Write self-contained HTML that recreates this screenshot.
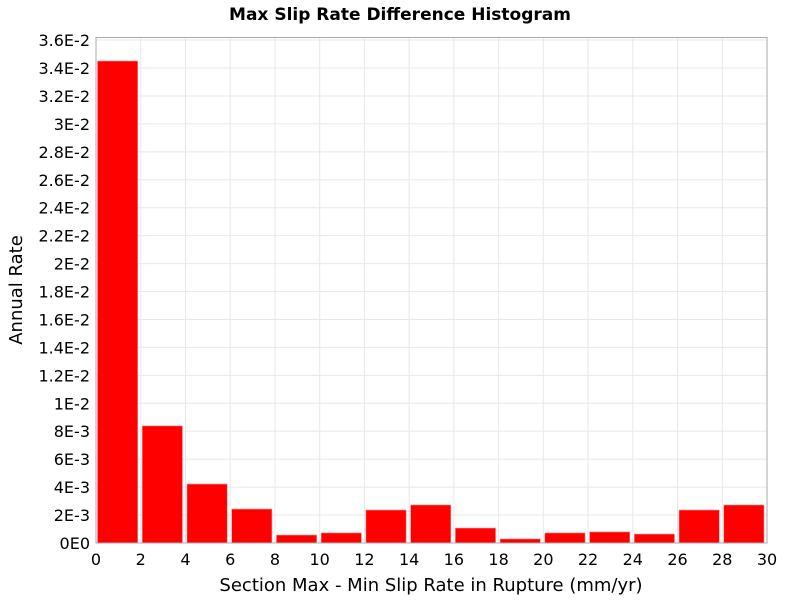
<!DOCTYPE html>
<html><head><meta charset="utf-8"><style>
body{margin:0;background:#fff}
svg text{font-family:"DejaVu Sans","Liberation Sans",sans-serif;fill:#000}
</style></head><body>
<svg id="c" width="800" height="600">
<text x="400" y="20" text-anchor="middle" font-size="17" font-weight="bold">Max Slip Rate Difference Histogram</text>
<g id="grid"></g>
<g id="bars"></g>
<rect x="96" y="37.5" width="671" height="505.5" fill="none" stroke="#aaa"/>
<g id="yt"></g>
<g id="xt"></g>
<text x="431" y="591" text-anchor="middle" font-size="18">Section Max - Min Slip Rate in Rupture (mm/yr)</text>
<text transform="translate(22,290) rotate(-90)" text-anchor="middle" font-size="18">Annual Rate</text>
</svg>
<script>
const binStarts=[0,2,4,6,8,10,12,14,16,18,20,22,24,26,28];
const rates=[0.0345,0.00838,0.00422,0.00243,0.00057,0.00072,0.00236,0.00272,0.00107,0.00029,0.00072,0.00079,0.00064,0.00236,0.00272];
const yTicks=[0,0.002,0.004,0.006,0.008,0.01,0.012,0.014,0.016,0.018,0.02,0.022,0.024,0.026,0.028,0.03,0.032,0.034,0.036];
const yLabels=["0E0","2E-3","4E-3","6E-3","8E-3","1E-2","1.2E-2","1.4E-2","1.6E-2","1.8E-2","2E-2","2.2E-2","2.4E-2","2.6E-2","2.8E-2","3E-2","3.2E-2","3.4E-2","3.6E-2"];
const xTicks=[0,2,4,6,8,10,12,14,16,18,20,22,24,26,28,30];
const binWidth=2;
const NS="http://www.w3.org/2000/svg";
const X=v=>96+v*671/30;
const Y=v=>543-v*(475/0.034);
function mk(t,a,p){const e=document.createElementNS(NS,t);for(const k in a)e.setAttribute(k,a[k]);p.appendChild(e);return e;}
const grid=document.getElementById('grid'),bars=document.getElementById('bars'),yt=document.getElementById('yt'),xt=document.getElementById('xt');
yTicks.forEach((v,i)=>{
 const l=mk('line',{x1:96,x2:767,y1:Y(v),y2:Y(v),stroke:'#e8e8e8'},grid);
 
 
 const t=mk('text',{x:90,y:Y(v)+6,'text-anchor':'end','font-size':'16'},yt);
 t.textContent=yLabels[i];
 
 
});
xTicks.forEach(v=>{
 const l=mk('line',{x1:X(v),x2:X(v),y1:37.5,y2:543,stroke:'#e8e8e8'},grid);
 
 
 const t=mk('text',{x:X(v),y:565,'text-anchor':'middle','font-size':'16'},xt);
 t.textContent=v;
 
 
});
binStarts.forEach((b,i)=>{
 const x0=X(b)+1.5,x1=X(b+binWidth)-3;
 const r=mk('rect',{x:x0,y:Y(rates[i]),width:x1-x0,height:543-Y(rates[i]),fill:'#ff0000',stroke:'#ff9090','stroke-width':'0.6'},bars);
 
 
});
</script>
</body></html>
